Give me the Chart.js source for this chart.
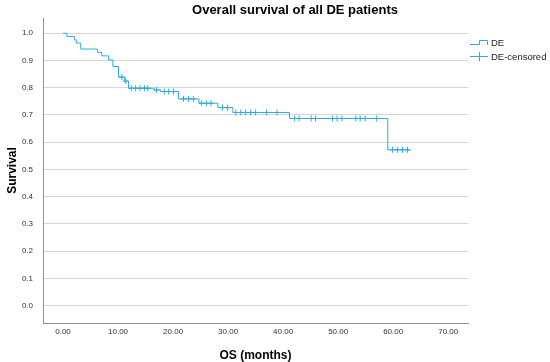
<!DOCTYPE html>
<html lang="en">
<head>
<meta charset="utf-8">
<title>Overall survival of all DE patients</title>
<script src="https://cdn.jsdelivr.net/npm/chart.js@4.4.1/dist/chart.umd.min.js"></script>
<style>
    html, body { margin: 0; padding: 0; background: #ffffff; }
    canvas { display: block; }
</style>
</head>
<body>
<canvas id="kmChart" width="550" height="362"></canvas>
<script>
// 生存曲線のステップ（イベント時点, 月）
const eventTimes = [0, 0.7, 2.06, 2.41, 3.22, 6.25, 7.05, 8.27, 9.07, 10.08, 11.19, 11.9, 16.54, 17.75, 20.98, 24.71, 28.14, 30.87, 41.16, 59.02, 63.26];
// 各ステップ後の生存率
const survivalValues = [1.0, 0.988, 0.976, 0.964, 0.942, 0.93, 0.917, 0.902, 0.878, 0.839, 0.824, 0.798, 0.792, 0.786, 0.759, 0.743, 0.727, 0.709, 0.687, 0.572, 0.572];
// 打ち切り時点（月）
const censorTimes = [10.7, 11.4, 12.4, 13.2, 14.0, 14.8, 15.4, 17.0, 18.4, 19.2, 20.1, 21.9, 22.8, 23.7, 25.2, 26.1, 26.9, 29.0, 29.9, 31.4, 32.3, 33.2, 34.1, 35.0, 37.0, 38.9, 42.1, 42.9, 45.1, 45.9, 49.0, 49.8, 50.7, 53.2, 54.0, 54.9, 57.0, 59.9, 60.8, 61.7, 62.6];
// 目盛り
const xTickValues = [0, 10, 20, 30, 40, 50, 60, 70];
const yTickValues = [0, 0.1, 0.2, 0.3, 0.4, 0.5, 0.6, 0.7, 0.8, 0.9, 1.0];

const LINE_COLOR = '#2aaee0';
const AXIS_COLOR = '#8f8f8f';
const GRID_COLOR = '#d6d6d6';
const FONT_FAMILY = "'Liberation Sans', Arial, sans-serif";

// ある時点での生存率（直前のステップの値）
function survivalAt(t) {
    let s = survivalValues[0];
    for (let i = 0; i < eventTimes.length; i++) {
        if (eventTimes[i] <= t) s = survivalValues[i];
    }
    return s;
}

const curvePoints = eventTimes.map((t, i) => ({ x: t, y: survivalValues[i] }));
const censorPoints = censorTimes.map(t => ({ x: t, y: survivalAt(t) }));

// タイトルと凡例を描くプラグイン
const decorPlugin = {
    id: 'decor',
    afterDraw(chart) {
        const ctx = chart.ctx;
        ctx.save();
        // タイトル
        ctx.fillStyle = '#000';
        ctx.font = 'bold 13px ' + FONT_FAMILY;
        ctx.textAlign = 'center';
        ctx.textBaseline = 'middle';
        ctx.fillText('Overall survival of all DE patients', 295, 10);

        // 凡例
        ctx.strokeStyle = LINE_COLOR;
        ctx.lineWidth = 1;
        ctx.beginPath();
        ctx.moveTo(470, 44.5);
        ctx.lineTo(479.5, 44.5);
        ctx.lineTo(479.5, 40.5);
        ctx.lineTo(487.5, 40.5);
        ctx.lineTo(487.5, 45);
        ctx.stroke();

        ctx.beginPath();
        ctx.moveTo(470, 56.5);
        ctx.lineTo(488, 56.5);
        ctx.moveTo(479.5, 52);
        ctx.lineTo(479.5, 61);
        ctx.stroke();

        ctx.fillStyle = '#222';
        ctx.font = '9.5px ' + FONT_FAMILY;
        ctx.textAlign = 'left';
        ctx.fillText('DE', 491, 43);
        ctx.fillText('DE-censored', 491, 57);
        ctx.restore();
    }
};

const ctx = document.getElementById('kmChart').getContext('2d');
new Chart(ctx, {
    type: 'line',
    data: {
        datasets: [
            {
                label: 'DE',
                data: curvePoints,
                stepped: true,
                borderColor: LINE_COLOR,
                borderWidth: 1,
                pointRadius: 0,
                fill: false
            },
            {
                label: 'DE-censored',
                data: censorPoints,
                showLine: false,
                pointStyle: 'cross',
                pointRadius: 3,
                pointBorderColor: LINE_COLOR,
                pointBorderWidth: 1
            }
        ]
    },
    options: {
        responsive: false,
        animation: false,
        devicePixelRatio: 1,
        layout: { padding: { top: 18, right: 82, left: 0, bottom: 0 } },
        plugins: {
            legend: { display: false },
            title: { display: false },
            tooltip: { enabled: false }
        },
        scales: {
            x: {
                type: 'linear',
                min: -3.64,
                max: 73.6,
                afterBuildTicks: s => { s.ticks = xTickValues.map(v => ({ value: v })); },
                afterFit: s => { s.height = 39; },
                grid: { color: 'transparent', drawTicks: false },
                border: { display: true, color: AXIS_COLOR, width: 1 },
                ticks: {
                    padding: 4,
                    color: '#333',
                    autoSkip: false,
                    maxRotation: 0,
                    font: { size: 8, family: FONT_FAMILY },
                    callback: v => Number(v).toFixed(2)
                },
                title: {
                    display: true,
                    text: 'OS (months)',
                    color: '#000',
                    font: { size: 12, weight: 'bold', family: FONT_FAMILY, lineHeight: 1 },
                    padding: { top: 0, bottom: 0 }
                }
            },
            y: {
                min: -0.064,
                max: 1.056,
                afterBuildTicks: s => { s.ticks = yTickValues.map(v => ({ value: v })); },
                afterFit: s => { s.width = 43; },
                grid: { color: GRID_COLOR, lineWidth: 1, drawTicks: false },
                border: { display: true, color: AXIS_COLOR, width: 1 },
                ticks: {
                    padding: 10,
                    color: '#333',
                    font: { size: 8, family: FONT_FAMILY },
                    callback: v => Number(v).toFixed(1)
                },
                title: {
                    display: true,
                    text: 'Survival',
                    color: '#000',
                    font: { size: 12, weight: 'bold', family: FONT_FAMILY, lineHeight: 1 },
                    padding: { top: 6.5, bottom: 0 }
                }
            }
        }
    },
    plugins: [decorPlugin]
});
</script>
</body>
</html>
